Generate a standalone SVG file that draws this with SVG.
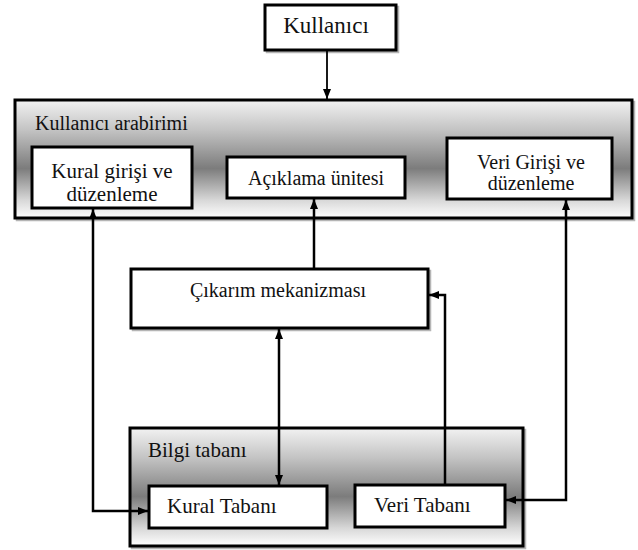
<svg xmlns="http://www.w3.org/2000/svg" width="638" height="550" viewBox="0 0 638 550">
  <defs>
    <linearGradient id="g1" x1="0" y1="0" x2="0" y2="1">
      <stop offset="0" stop-color="#f2f2f2"/>
      <stop offset="0.25" stop-color="#c4c4c4"/>
      <stop offset="0.58" stop-color="#7c7c7c"/>
      <stop offset="0.85" stop-color="#d8d8d8"/>
      <stop offset="1" stop-color="#ffffff"/>
    </linearGradient>
    <marker id="ah" viewBox="0 0 10 8" refX="10" refY="4" markerWidth="10" markerHeight="8" markerUnits="userSpaceOnUse" orient="auto-start-reverse">
      <path d="M0,0 L10,4 L0,8 z" fill="#000"/>
    </marker>
  </defs>
  <style>
    .shadow { fill: none; stroke: #b5b5b5; stroke-width: 2.5; }
    .outer { fill: url(#g1); stroke: #000; stroke-width: 3; }
    .box { fill: #fff; stroke: #000; stroke-width: 3; }
    text { font-family: 'Liberation Serif', 'DejaVu Serif', 'Times New Roman', serif; fill: #111; }
    .c { text-anchor: middle; }
    .conn { fill: none; stroke: #000; stroke-width: 2.5; }
  </style>

  <g id="kullanici">
    <rect class="shadow" x="267" y="7" width="131" height="45"/>
    <rect class="box" x="265" y="5" width="131" height="45"/>
    <text class="c" x="326" y="33" font-size="23" font-family="Liberation Serif, serif">Kullanıcı</text>
  </g>

  <g id="kullanici-arabirimi">
    <rect class="shadow" x="17" y="102" width="617" height="118"/>
    <rect class="outer" x="15" y="100" width="617" height="118"/>
    <text x="35" y="130" font-size="20" font-family="Liberation Serif, serif">Kullanıcı arabirimi</text>
  </g>

  <g id="kural-girisi">
    <rect class="box" x="32" y="147" width="160" height="61"/>
    <text class="c" x="112" y="178" font-size="21" font-family="Liberation Serif, serif">Kural girişi ve</text>
    <text class="c" x="112" y="201" font-size="21" font-family="Liberation Serif, serif">düzenleme</text>
  </g>

  <g id="aciklama">
    <rect class="box" x="227" y="157" width="178" height="41"/>
    <text class="c" x="316" y="185" font-size="20" font-family="Liberation Serif, serif">Açıklama ünitesi</text>
  </g>

  <g id="veri-girisi">
    <rect class="box" x="447" y="138" width="165" height="61"/>
    <text class="c" x="531" y="169" font-size="20" font-family="Liberation Serif, serif">Veri Girişi ve</text>
    <text class="c" x="531" y="190" font-size="20" font-family="Liberation Serif, serif">düzenleme</text>
  </g>

  <g id="cikarim">
    <rect class="shadow" x="133" y="271" width="297" height="59"/>
    <rect class="box" x="131" y="269" width="297" height="59"/>
    <text class="c" x="278" y="297" font-size="20" font-family="Liberation Serif, serif">Çıkarım mekanizması</text>
  </g>

  <g id="bilgi-tabani">
    <rect class="shadow" x="132" y="430" width="393" height="118"/>
    <rect class="outer" x="130" y="428" width="393" height="118"/>
    <text x="148" y="457" font-size="21" font-family="Liberation Serif, serif">Bilgi tabanı</text>
  </g>

  <g id="kural-tabani">
    <rect class="box" x="149" y="486" width="178" height="42"/>
    <text x="167" y="513" font-size="21" font-family="Liberation Serif, serif">Kural Tabanı</text>
  </g>

  <g id="veri-tabani">
    <rect class="box" x="355" y="485" width="150" height="42"/>
    <text x="374" y="512" font-size="21" font-family="Liberation Serif, serif">Veri Tabanı</text>
  </g>

  <g id="connectors">
    <line x1="327" y1="50" x2="327" y2="99" stroke="#000" stroke-width="1.8" marker-end="url(#ah)"/>
    <path class="conn" d="M93,209 L93,511 L148,511" marker-start="url(#ah)" marker-end="url(#ah)"/>
    <path class="conn" d="M314,269 L314,199" marker-end="url(#ah)"/>
    <path class="conn" d="M279,329 L279,485" marker-start="url(#ah)" marker-end="url(#ah)"/>
    <path class="conn" d="M445,485 L445,295 L429,295" marker-end="url(#ah)"/>
    <path class="conn" d="M566,200 L566,500 L506,500" marker-start="url(#ah)" marker-end="url(#ah)"/>
  </g>
</svg>
